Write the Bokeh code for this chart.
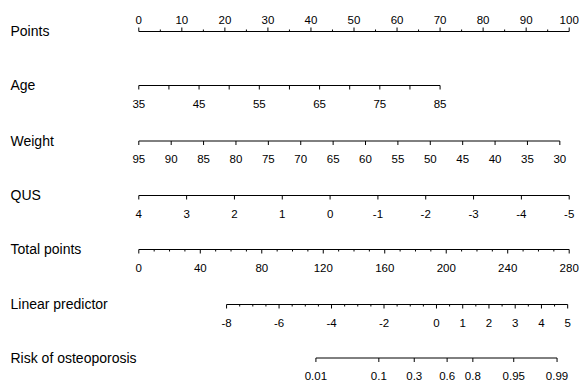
import numpy as np
from bokeh.plotting import figure
from bokeh.models import Range1d, ColumnDataSource
from bokeh.embed import file_html
from bokeh.resources import INLINE
from bokeh.core.properties import value

# ---------------- data ----------------
row_names = ["Points", "Age", "Weight", "QUS", "Total points",
             "Linear predictor", "Risk of osteoporosis"]

points_ticks = list(range(0, 101, 5))
points_labels = list(range(0, 101, 10))

age_ticks = list(range(35, 86, 5))
age_labels = [35, 45, 55, 65, 75, 85]

weight_ticks = list(range(95, 29, -5))
weight_labels = list(range(95, 29, -5))

qus_ticks = [4, 3, 2, 1, 0, -1, -2, -3, -4, -5]
qus_labels = [4, 3, 2, 1, 0, -1, -2, -3, -4, -5]

total_ticks = list(range(0, 281, 10))
total_labels = list(range(0, 281, 40))

lp_ticks = [v / 2 for v in range(-16, 11)]
lp_labels = [-8, -6, -4, -2, 0, 1, 2, 3, 4, 5]

risk_labels = [0.01, 0.1, 0.3, 0.6, 0.8, 0.95, 0.99]
risk_text = ["0.01", "0.1", "0.3", "0.6", "0.8", "0.95", "0.99"]

# model: points contributed per unit of each predictor
age_ref, age_pts = 35, 1.40
weight_ref, weight_pts = 95, 1.505
qus_ref, qus_pts = 4, 100.0 / 9.0
total_max = 280
lp_at_total0, total_per_lp = -11.345, 17.07


def x_points(v):
    return float(v)


def x_age(v):
    return (v - age_ref) * age_pts


def x_weight(v):
    return (weight_ref - v) * weight_pts


def x_qus(v):
    return (qus_ref - v) * qus_pts


def x_total(v):
    return v * 100.0 / total_max


def x_lp(v):
    return x_total((v - lp_at_total0) * total_per_lp)


def x_risk(p):
    return x_lp(np.log(p / (1 - p)))


# ---------------- layout ----------------
W, H = 579, 383
line_y = [31, 85, 140.5, 195, 249, 304, 357.5]
MAJ, MIN = 4, 2
FS_LAB, FS_TICK = "14px", "11.5px"
FONT = "Liberation Sans"

seg = dict(x0=[], y0=[], x1=[], y1=[])
tick_txt = dict(x=[], y=[], text=[])


def add_axis(y, fmap, ticks, labels, above=False, minor_short=True,
             texts=None):
    xs = [fmap(t) for t in ticks]
    lo, hi = min(xs), max(xs)
    seg["x0"].append(lo); seg["x1"].append(hi)
    seg["y0"].append(y); seg["y1"].append(y)
    sgn = -1 if above else 1
    lab_set = set(labels)
    for t, x in zip(ticks, xs):
        ln = MAJ if (t in lab_set or not minor_short) else MIN
        seg["x0"].append(x); seg["x1"].append(x)
        seg["y0"].append(y); seg["y1"].append(y + sgn * ln)
    for i, t in enumerate(labels):
        tick_txt["x"].append(fmap(t))
        tick_txt["y"].append(y - 11.5 if above else y + 18)
        tick_txt["text"].append(texts[i] if texts else str(t))


add_axis(line_y[0], x_points, points_ticks, points_labels, above=True)
add_axis(line_y[1], x_age, age_ticks, age_labels, minor_short=False)
add_axis(line_y[2], x_weight, weight_ticks, weight_labels, minor_short=False)
add_axis(line_y[3], x_qus, qus_ticks, qus_labels, minor_short=False)
add_axis(line_y[4], x_total, total_ticks, total_labels)
add_axis(line_y[5], x_lp, lp_ticks, lp_labels)
add_axis(line_y[6], x_risk, risk_labels, risk_labels, minor_short=False,
         texts=risk_text)

# x range in points units; the figure sits at the page's top-left corner
px_per_pt = 4.304
x0_page = 138.3
xr = Range1d((0 - x0_page) / px_per_pt, (W - x0_page) / px_per_pt)
yr = Range1d(H, 0)

p = figure(width=W, height=H, x_range=xr, y_range=yr,
           output_backend="svg", toolbar_location=None,
           min_border=0, outline_line_color=None)
p.axis.visible = False
p.grid.visible = False
p.background_fill_color = "white"
p.border_fill_color = "white"

p.segment(x0="x0", y0="y0", x1="x1", y1="y1",
          source=ColumnDataSource(seg), line_color="black", line_width=1)

p.text(x="x", y="y", text="text", source=ColumnDataSource(tick_txt),
       text_font=value(FONT), text_font_size=FS_TICK, text_color="black",
       text_align="center", text_baseline="alphabetic")

name_x = (10 - x0_page) / px_per_pt
name_src = ColumnDataSource(dict(x=[name_x] * len(row_names),
                                 y=[y - 0.5 for y in line_y],
                                 text=row_names))
p.text(x="x", y="y", text="text", source=name_src,
       text_font=value(FONT), text_font_size=FS_LAB, text_color="black",
       text_align="left", text_baseline="alphabetic")

open("out.html", "w").write(file_html(p, INLINE))
